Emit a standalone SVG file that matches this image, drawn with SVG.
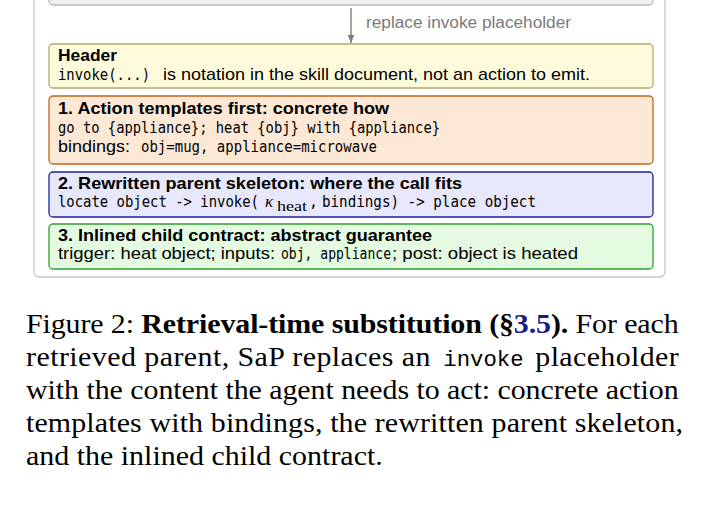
<svg xmlns="http://www.w3.org/2000/svg" width="708" height="508" viewBox="0 0 708 508">
<style>
.sans{font-family:"Liberation Sans",Arial,sans-serif;font-size:17px;fill:#000}
.b{font-weight:bold}
.mono{font-family:"DejaVu Sans Mono","Liberation Mono",monospace;font-size:15px;fill:#000}
.box{stroke-width:1.3}
.cap{font-family:"Liberation Serif","Times New Roman",serif;font-size:28px;fill:#000}
.capmono{font-family:"Liberation Mono","Courier New",monospace;font-size:22px;fill:#000}
.lbl{font-family:"Liberation Sans",Arial,sans-serif;font-size:16px;fill:#7a7a7a}
.math{font-family:"Liberation Serif","Times New Roman",serif;fill:#000}
</style>
<defs>
<marker id="ah" viewBox="0 0 10 10" refX="10" refY="5" markerWidth="8" markerHeight="8" markerUnits="userSpaceOnUse" orient="auto">
<path d="M0,1 L10,5 L0,9 Z" fill="#7a7a7a"/>
</marker>
</defs>
<rect x="34" y="-40" width="631" height="317" rx="5" fill="#ffffff" stroke="#c8c8c8" stroke-width="1.3"/>
<g id="prev">
<rect class="box" x="49" y="-40" width="604" height="45" rx="4" fill="#f0f0f0" stroke="#b9b9b9"/>
</g>
<g id="connectors">
<line x1="351" y1="8" x2="351" y2="43" stroke="#7a7a7a" stroke-width="1.4" marker-end="url(#ah)"/>
<text class="lbl" x="366" y="28" textLength="205" lengthAdjust="spacingAndGlyphs">replace invoke placeholder</text>
</g>
<g id="header">
<rect class="box" x="49" y="44" width="604" height="44" rx="4" fill="#fefbdd" stroke="#b3ab6b"/>
<text class="sans b" x="58" y="61" textLength="59" lengthAdjust="spacingAndGlyphs">Header</text>
<text class="sans" y="80"><tspan class="mono" x="58" textLength="92" lengthAdjust="spacingAndGlyphs">invoke(...)</tspan><tspan x="163" textLength="427" lengthAdjust="spacingAndGlyphs">is notation in the skill document, not an action to emit.</tspan></text>
</g>
<g id="templates">
<rect class="box" x="49" y="96" width="604" height="68" rx="4" fill="#fde8d5" stroke="#c0661a"/>
<text class="sans b" x="58" y="114" textLength="331" lengthAdjust="spacingAndGlyphs">1.  Action templates first:  concrete how</text>
<text class="mono" x="58" y="133" textLength="382" lengthAdjust="spacingAndGlyphs">go to {appliance}; heat {obj} with {appliance}</text>
<text class="sans" y="152"><tspan x="58" textLength="72" lengthAdjust="spacingAndGlyphs">bindings:</tspan><tspan class="mono" x="141" textLength="236" lengthAdjust="spacingAndGlyphs">obj=mug, appliance=microwave</tspan></text>
</g>
<g id="skeleton">
<rect class="box" x="49" y="172" width="604" height="45" rx="4" fill="#e7e8fc" stroke="#1c239e"/>
<text class="sans b" x="58" y="189" textLength="404" lengthAdjust="spacingAndGlyphs">2.  Rewritten parent skeleton:  where the call fits</text>
<text class="mono" y="207"><tspan x="58" textLength="201" lengthAdjust="spacingAndGlyphs">locate object -&gt; invoke(</tspan><tspan class="math" x="265" font-style="italic" font-size="17">κ</tspan><tspan class="math" x="277" dy="4" font-size="14" textLength="30" lengthAdjust="spacingAndGlyphs">heat</tspan><tspan x="309" dy="-4">,</tspan><tspan x="322" textLength="214" lengthAdjust="spacingAndGlyphs">bindings) -&gt; place object</tspan></text>
</g>
<g id="contract">
<rect class="box" x="49" y="224" width="604" height="45" rx="4" fill="#e4fbe2" stroke="#2f9f2f"/>
<text class="sans b" x="58" y="241" textLength="374" lengthAdjust="spacingAndGlyphs">3.  Inlined child contract:  abstract guarantee</text>
<text class="sans" y="259"><tspan x="58" textLength="217" lengthAdjust="spacingAndGlyphs">trigger:  heat object; inputs:</tspan><tspan class="mono" x="281" textLength="110" lengthAdjust="spacingAndGlyphs">obj, appliance</tspan><tspan x="392" textLength="186" lengthAdjust="spacingAndGlyphs">; post:  object is heated</tspan></text>
</g>
<g id="caption" transform="matrix(1.07 0 0 1 26 0)">
<text class="cap" x="0" y="333" textLength="610" lengthAdjust="spacing">Figure 2: <tspan font-weight="bold">Retrieval-time substitution (§<tspan fill="#1a1a8f">3.5</tspan>).</tspan> For each</text>
<text class="cap" y="366"><tspan x="0" textLength="378" lengthAdjust="spacing">retrieved parent, SaP replaces an</tspan><tspan class="capmono" x="390" textLength="75" lengthAdjust="spacingAndGlyphs">invoke</tspan><tspan x="476" textLength="134" lengthAdjust="spacing">placeholder</tspan></text>
<text class="cap" x="0" y="399" textLength="610" lengthAdjust="spacing">with the content the agent needs to act: concrete action</text>
<text class="cap" x="0" y="432" textLength="614" lengthAdjust="spacing">templates with bindings, the rewritten parent skeleton,</text>
<text class="cap" x="0" y="465">and the inlined child contract.</text>
</g>
</svg>
